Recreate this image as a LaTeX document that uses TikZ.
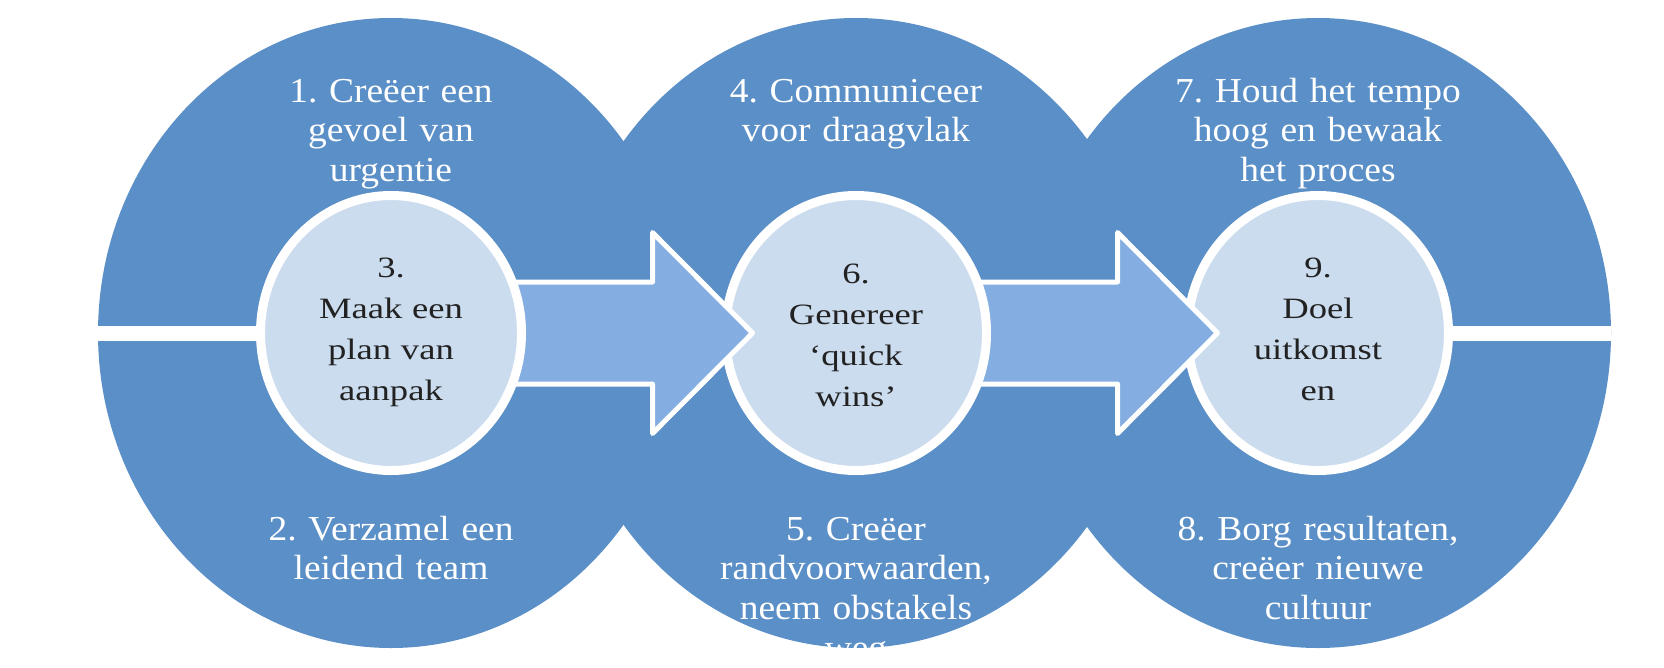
\documentclass[tikz,border=0pt]{standalone}
\usepackage{fontspec}
\setmainfont{Liberation Serif}[FakeStretch=1.07]
\newfontfamily\corefont{Liberation Serif}[FakeStretch=1.24]
\usepackage{xcolor}
\usepackage{tikz}
\usetikzlibrary{shapes.geometric, calc}
\definecolor{phaseblue}{HTML}{5B8FC7}
\definecolor{arrowblue}{HTML}{84ADE1}
\definecolor{corefill}{HTML}{CBDCEE}
\definecolor{coreink}{HTML}{222222}
\frenchspacing

\begin{document}
\begin{tikzpicture}[
    x=0.3mm, y=-0.3mm,
    phase/.style={ellipse, fill=phaseblue, minimum width=175.8mm, minimum height=189mm, inner sep=0pt},
    core/.style={ellipse, draw=white, line width=2.7mm, fill=corefill, minimum width=78.3mm, minimum height=82.5mm, inner sep=0pt},
    flow/.style={draw=white, line width=1.5mm, line join=round, fill=arrowblue},
    phaselabel/.style={anchor=base, inner sep=0pt, text width=110mm, align=center, text=white, font=\fontsize{29.9}{34.1}\selectfont},
    corelabel/.style={anchor=base, inner sep=0pt, text width=75mm, align=center, text=coreink, font=\corefont\fontsize{25.2}{35.2}\selectfont},
]

\path[use as bounding box, fill=white] (0,0) rectangle (1664,668);

% ─── Phases ───
\node[phase] (phase1) at (391,333) {};
\node[phase] (phase2) at (856,333) {};
\node[phase] (phase3) at (1318,333) {};
\fill[white] ($(phase1.west)+(0,-7.5)$) rectangle ($(phase3.east)+(0,7.5)$);

% ─── Phase labels ───
\node[phaselabel] (lbl1) at ($(phase1)+(0,-231)$) {1. Creëer een\\gevoel van\\urgentie};
\node[phaselabel] (lbl2) at ($(phase1)+(0,207)$) {2. Verzamel een\\leidend team};
\node[phaselabel] (lbl4) at ($(phase2)+(0,-231)$) {4. Communiceer\\voor draagvlak};
\node[phaselabel] (lbl5) at ($(phase2)+(0,207)$) {5. Creëer\\randvoorwaarden,\\neem obstakels\\weg};
\node[phaselabel] (lbl7) at ($(phase3)+(0,-231)$) {7. Houd het tempo\\hoog en bewaak\\het proces};
\node[phaselabel] (lbl8) at ($(phase3)+(0,207)$) {8. Borg resultaten,\\creëer nieuwe\\cultuur};

% ─── Cores and arrows (right to left) ───
\node[core] (core3) at (phase3) {};
\draw[flow] ($(phase2)+(119,-51)$) -- ++(142.5,0) -- ++(0,-49.5) -- ++(100,100.5) -- ++(-100,100.5) -- ++(0,-49.5) -- ++(-142.5,0) -- cycle;
\node[core] (core2) at (phase2) {};
\draw[flow] ($(phase1)+(119,-51)$) -- ++(142.5,0) -- ++(0,-49.5) -- ++(100,100.5) -- ++(-100,100.5) -- ++(0,-49.5) -- ++(-142.5,0) -- cycle;
\node[core] (core1) at (phase1) {};

% ─── Core labels ───
\node[corelabel] (lbl3) at ($(core1)+(0,-56)$) {3.\\Maak een\\plan van\\aanpak};
\node[corelabel] (lbl6) at ($(core2)+(0,-50)$) {6.\\Genereer\\‘quick\\wins’};
\node[corelabel] (lbl9) at ($(core3)+(0,-56)$) {9.\\Doel\\uitkomst\\en};

\end{tikzpicture}
\end{document}
